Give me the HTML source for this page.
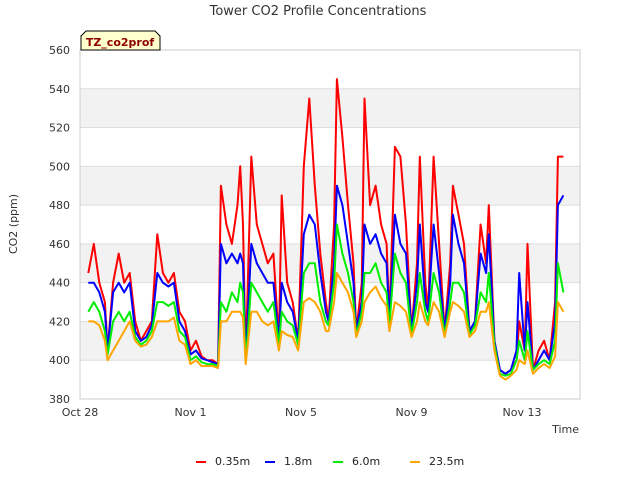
<!DOCTYPE html>
<html><head><meta charset="utf-8"><style>
body{margin:0;background:#fff;}
svg{display:block;font-family:"DejaVu Sans","Liberation Sans",sans-serif;}
</style></head><body>
<svg id="chart" width="640" height="480" viewBox="0 0 640 480">
<text x="318" y="15" text-anchor="middle" font-size="13" fill="#333">Tower CO2 Profile Concentrations</text>
<g id="bands"></g>
<g id="grid"></g>
<g id="yticks" font-size="11" fill="#333"></g>
<g id="xticks" font-size="11" fill="#333"></g>
<g id="series"></g>
<text transform="translate(17,224) rotate(-90)" text-anchor="middle" font-size="11" fill="#333">CO2 (ppm)</text>
<text x="579" y="433" text-anchor="end" font-size="11" fill="#333">Time</text>
<g>
<path d="M81,50 L81,36 L86,31 L155,31 L160,36 L160,50 Z" fill="#ffffcc" stroke="#000" stroke-width="1"/>
<text x="120" y="46" text-anchor="middle" font-size="11" font-weight="bold" fill="#8b0000">TZ_co2prof</text>
</g>
<g id="legend" font-size="11" fill="#222"></g>
</svg>
<script>
const times=[0.3,0.5,0.7,0.9,1.0,1.2,1.4,1.6,1.8,2.0,
2.2,2.4,2.6,2.8,3.0,3.2,3.4,3.6,3.8,4.0,
4.2,4.4,4.6,4.8,5.0,5.1,5.3,5.5,5.7,5.8,
5.9,6.0,6.2,6.4,6.6,6.8,7.0,7.2,7.3,7.5,
7.7,7.9,8.1,8.3,8.5,8.7,8.9,9.0,9.2,9.3,
9.5,9.7,9.9,10.0,10.2,10.3,10.5,10.7,10.9,11.1,
11.2,11.4,11.6,11.8,12.0,12.2,12.3,12.5,12.6,12.8,
13.0,13.2,13.4,13.5,13.7,13.9,14.1,14.3,14.5,14.7,
14.8,15.0,15.2,15.4,15.6,15.8,15.9,16.1,16.2,16.4,
16.6,16.8,17.0,17.2,17.3,17.5];
const red=[445,460,440,430,405,440,455,440,445,420,
410,415,420,465,445,440,445,425,420,405,
410,402,400,400,398,490,470,460,480,500,
470,400,505,470,460,450,455,410,485,440,
430,410,500,535,490,455,430,420,470,545,
515,480,450,415,440,535,480,490,470,460,
420,510,505,470,415,450,505,440,425,505,
460,415,450,490,475,460,415,420,470,450,
480,410,395,393,395,400,420,405,460,395,
405,410,400,430,505,505];
const blue=[440,440,435,425,405,435,440,435,440,415,
410,412,418,445,440,438,440,420,415,403,
405,401,400,399,398,460,450,455,450,455,
450,400,460,450,445,440,440,410,440,430,
425,410,465,475,470,445,425,420,450,490,
480,460,440,415,430,470,460,465,455,450,
420,475,460,455,415,440,470,430,425,470,
445,415,440,475,460,450,415,420,455,445,
465,410,395,393,395,405,445,405,430,395,
400,405,400,420,480,485];
const green=[425,430,425,415,403,420,425,420,425,412,
408,410,415,430,430,428,430,415,412,400,
402,399,398,398,397,430,425,435,430,440,
435,399,440,435,430,425,430,408,425,420,
418,408,445,450,450,430,420,418,440,470,
455,445,430,413,425,445,445,450,440,435,
418,455,445,440,413,430,445,425,420,445,
435,413,430,440,440,435,413,418,435,430,
445,408,393,392,393,400,410,400,415,395,
398,400,398,410,450,435];
const orange=[420,420,418,410,400,405,410,415,420,410,
407,408,412,420,420,420,422,410,408,398,
400,397,397,397,396,420,420,425,425,425,
422,398,425,425,420,418,420,405,415,413,
412,405,430,432,430,425,415,415,430,445,
440,435,425,412,420,430,435,438,432,428,
415,430,428,425,412,420,430,420,418,430,
425,412,425,430,428,425,412,415,425,425,
430,405,392,390,392,395,400,398,405,393,
396,398,396,402,430,425];
const yTicks=[380,400,420,440,460,480,500,520,540,560];
const xTickDays=[0,4,8,12,16];
const xTickLabels=["Oct 28","Nov 1","Nov 5","Nov 9","Nov 13"];
const seriesNames=["0.35m","1.8m","6.0m","23.5m"];

const NS="http://www.w3.org/2000/svg";
const X0=80,X1=580,Y0=399,Y1=50;
const DAYS=18.1;
function xs(d){return X0+(X1-X0)*d/DAYS;}
function ys(v){return Y0-(Y0-Y1)*(v-380)/180;}
function mk(tag,attrs,parent){const e=document.createElementNS(NS,tag);for(const k in attrs)e.setAttribute(k,attrs[k]);parent.appendChild(e);return e;}

const bands=document.getElementById('bands');
for(let v=400;v<560;v+=40){
  const r=mk('rect',{x:X0,y:ys(v+20),width:X1-X0,height:ys(v)-ys(v+20),fill:'#f2f2f2'},bands);
  
  
}
const grid=document.getElementById('grid');
yTicks.forEach(v=>{mk('line',{x1:X0,x2:X1,y1:ys(v),y2:ys(v),stroke:'#dddddd','stroke-width':1},grid);});
mk('rect',{x:X0,y:Y1,width:X1-X0,height:Y0-Y1,fill:'none',stroke:'#cccccc'},grid);
const yt=document.getElementById('yticks');
yTicks.forEach(v=>{const t=mk('text',{x:X0-10,y:ys(v)+4,'text-anchor':'end'},yt);t.textContent=v;
  
  });
const xt=document.getElementById('xticks');
xTickDays.forEach((d,i)=>{const t=mk('text',{x:xs(d),y:Y0+17,'text-anchor':'middle'},xt);t.textContent=xTickLabels[i];
  
  });

const colors=['#ff0000','#0000ff','#00ee00','#ffa500'];
const data=[red,blue,green,orange];
const sg=document.getElementById('series');
data.forEach((arr,i)=>{
  const pts=arr.map((v,j)=>xs(times[j]).toFixed(1)+','+ys(v).toFixed(1)).join(' ');
  const p=mk('polyline',{points:pts,fill:'none',stroke:colors[i],'stroke-width':2,'stroke-linejoin':'round'},sg);
  
  
});
const lg=document.getElementById('legend');
const lx=[196,265,333,410];
seriesNames.forEach((n,i)=>{
  const g=mk('g',{},lg);
  
  
  mk('line',{x1:lx[i],x2:lx[i]+10,y1:462,y2:462,stroke:colors[i],'stroke-width':2},g);
  const t=mk('text',{x:lx[i]+19,y:465},g);t.textContent=n;
});
</script>
</body></html>
